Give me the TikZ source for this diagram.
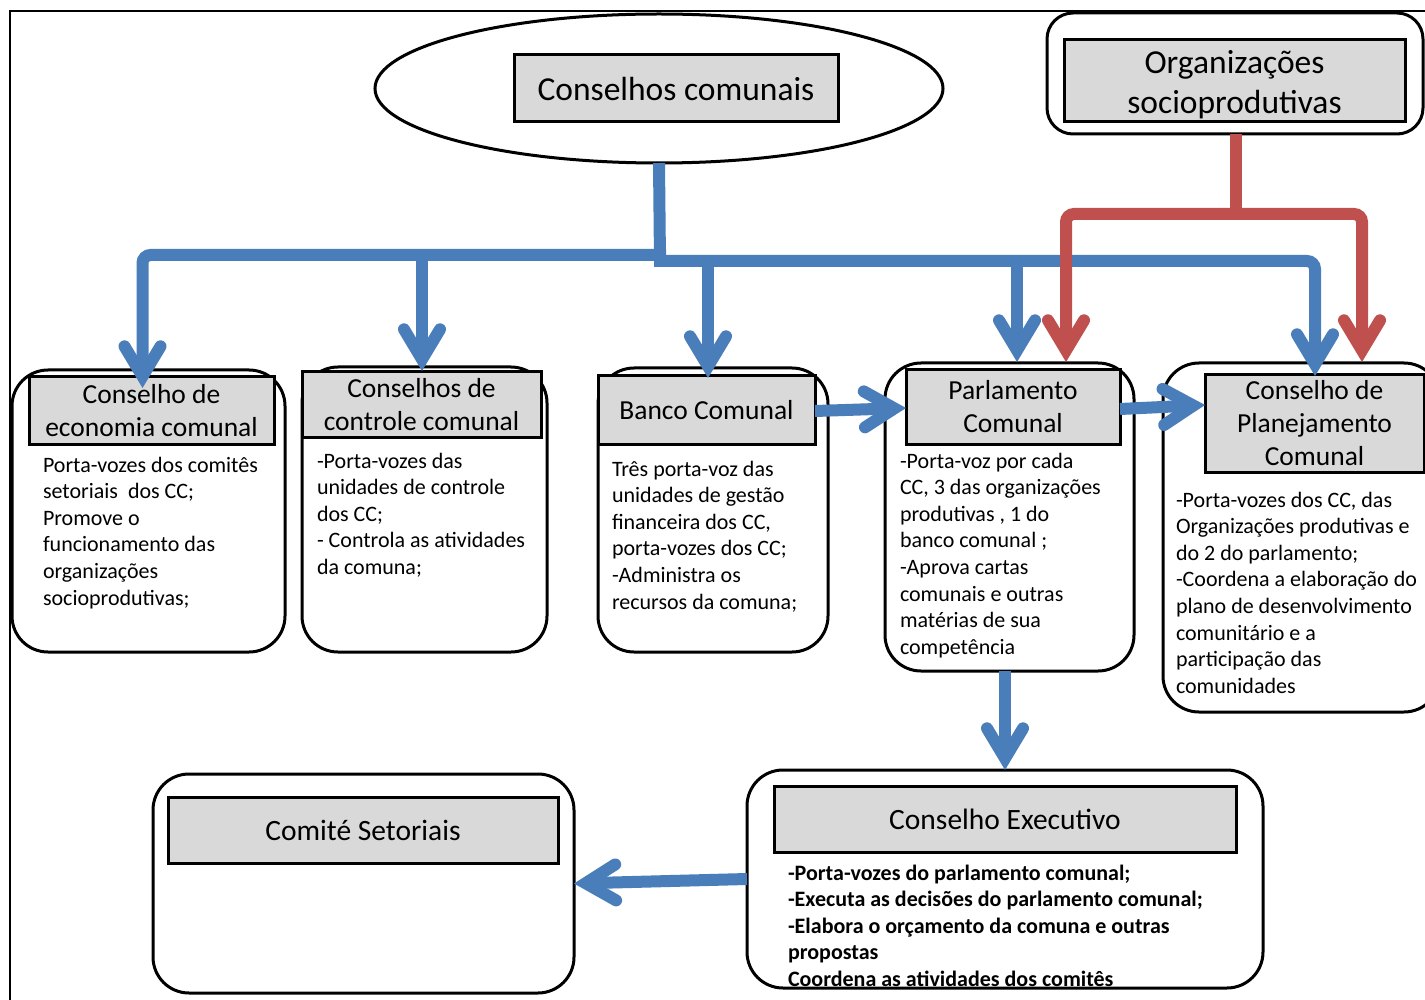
\documentclass[tikz,border=0pt]{standalone}
\usepackage{fontspec}
\setmainfont{Carlito}
\usetikzlibrary{arrows.meta,shapes.geometric,calc}
\definecolor{gfill}{HTML}{D9D9D9}
\definecolor{blu}{HTML}{4A7EBB}
\definecolor{rdd}{HTML}{C0504D}
\begin{document}
\begin{tikzpicture}[x=1pt,y=-1pt,
  obox/.style={draw=black,line width=3pt,rounded corners=36pt,fill=white,inner sep=0pt,outer sep=0pt},
  tbox/.style={draw=black,line width=3pt,fill=gfill,inner sep=0pt,outer sep=0pt,align=center,font=\fontsize{27.5}{33}\selectfont},
  bigt/.style={font=\fontsize{33.5}{40}\selectfont},
  midt/.style={font=\fontsize{29.5}{35}\selectfont},
  body/.style={inner sep=0pt,outer sep=0pt,anchor=base west,font=\fontsize{22}{26.6}\selectfont},
  conn/.style={line width=12pt,-{Straight Barb[length=30pt,width=36pt,line cap=round,line join=miter]}},
  bconn/.style={conn,draw=blu},
  rconn/.style={conn,draw=rdd},
  bline/.style={line width=12pt,draw=blu},
  rline/.style={line width=12pt,draw=rdd}]
\useasboundingbox (0,0) rectangle (1425,1000);
\clip (0,0) rectangle (1425,1000);
\fill[white] (0,0) rectangle (1425,1000);
\draw[line width=2pt] (10,1020) -- (10,11) -- (1440,11);

% top
\node[ellipse,draw,line width=3pt,minimum width=568pt,minimum height=149pt,inner sep=0pt,outer sep=0pt] (ell) at (659,88.5) {};
\node[tbox,bigt,minimum width=324pt,minimum height=67pt] (cc) at (676,88.5) {Conselhos comunais};
\node[obox,rounded corners=26pt,minimum width=376pt,minimum height=121pt] (orgO) at (1235,73.5) {};
\node[tbox,minimum width=341pt,minimum height=82pt] (org) at (1234.5,81) {};
\node[bigt,align=center,inner sep=0pt] (orgT) at (1234.5,85) {Organizações\\socioprodutivas};

% row 2
\node[obox,minimum width=273pt,minimum height=282pt] (ecoO) at (148.5,511) {};
\node[tbox,minimum width=245pt,minimum height=67pt] (eco) at (151.5,410.5) {Conselho de\\economia comunal};
\node[body] (ecoB) at (43,472) {\parbox[t]{235pt}{\raggedright Porta-vozes dos comitês\\setoriais\ \ dos CC;\\Promove o\\funcionamento das\\organizações\\socioprodutivas;}};

\node[obox,minimum width=245pt,minimum height=285pt] (ctlO) at (424.5,509.5) {};
\node[tbox,minimum width=239pt,minimum height=66pt] (ctl) at (421.5,404.5) {Conselhos de\\controle comunal};
\node[body] (ctlB) at (317,468) {\parbox[t]{225pt}{\raggedright -Porta-vozes das\\unidades de controle\\dos CC;\\- Controla as atividades\\da comuna;}};

\node[obox,minimum width=230pt,minimum height=284pt] (banO) at (713,510) {};
\node[tbox,minimum width=217pt,minimum height=68pt] (ban) at (706.5,410) {Banco Comunal};
\node[body] (banB) at (612,476) {\parbox[t]{210pt}{\raggedright Três porta-voz das\\unidades de gestão\\financeira dos CC,\\porta-vozes dos CC;\\-Administra os\\recursos da comuna;}};

\node[obox,minimum width=249pt,minimum height=308pt] (parO) at (1009.5,517) {};
\node[tbox,minimum width=214pt,minimum height=74pt] (par) at (1013,407) {Parlamento\\Comunal};
\node[body] (parB) at (900,468) {\parbox[t]{230pt}{\raggedright -Porta-voz por cada\\CC, 3 das organizações\\produtivas , 1 do\\banco comunal ;\\-Aprova cartas\\comunais e outras\\matérias de sua\\competência}};

\node[obox,minimum width=277pt,minimum height=349pt] (plaO) at (1301.5,537.5) {};
\node[tbox,minimum width=219pt,minimum height=97pt] (pla) at (1314.5,423.5) {Conselho de\\Planejamento\\Comunal};
\node[body] (plaB) at (1176,507) {\parbox[t]{260pt}{\raggedright -Porta-vozes dos CC, das\\Organizações produtivas e\\do 2 do parlamento;\\-Coordena a elaboração do\\plano de desenvolvimento\\comunitário e a\\participação das\\comunidades}};

% row 3
\node[obox,minimum width=421pt,minimum height=219pt] (comO) at (363.5,883.5) {};
\node[tbox,midt,minimum width=390pt,minimum height=66pt] (com) at (363,830) {Comité Setoriais};

\node[obox,minimum width=516pt,minimum height=218pt] (exeO) at (1005,879) {};
\node[tbox,midt,minimum width=462pt,minimum height=66pt] (exe) at (1005,819) {Conselho Executivo};
\begin{scope}
\clip (748.5,771.5) rectangle (1261.5,986.5);
\node[body,font=\fontsize{22}{26.6}\selectfont\bfseries] (exeB) at (788,880) {\parbox[t]{470pt}{\raggedright -Porta-vozes do parlamento comunal;\\-Executa as decisões do parlamento comunal;\\-Elabora o orçamento da comuna e outras\\propostas\\Coordena as atividades dos comitês}};
\end{scope}

% coordinates for connectors
\coordinate (jB) at (660,262);
\coordinate (jL) at (666,255);
\coordinate (cL) at (142.5,255);
\coordinate (jR) at (654,261);
\coordinate (cR) at (1315,261);
\coordinate (ecoT) at (142.5,388);
\coordinate (ctlT) at (422,371);
\coordinate (banT) at (708,378);
\coordinate (parT) at (1017,362);
\coordinate (plaT) at (1315,376);
\coordinate (rJ) at (1236,214);
\coordinate (rL) at (1066,214);
\coordinate (rR) at (1362,214);
\coordinate (parRT) at (1066,362);
\coordinate (plaRT) at (1362,362);

% blue tree
\draw[bline] (ell.south) -- (jB);
\draw[bconn,rounded corners=8pt] (jL) -- (cL) -- (ecoT);
\draw[bconn] (ctlT |- cL) -- (ctlT);
\draw[bconn,rounded corners=8pt] (jR) -- (cR) -- (plaT);
\draw[bconn] (banT |- cR) -- (banT);
\draw[bconn] (parT |- cR) -- (parT);

% red tree
\draw[rline] (orgO.south -| rJ) -- (rJ);
\draw[rconn,rounded corners=8pt] ($(rJ)+(6,0)$) -- (rL) -- (parRT);
\draw[rconn,rounded corners=8pt] ($(rJ)+(-6,0)$) -- (rR) -- (plaRT);

% horizontal / lower arrows
\draw[bconn] (ban.east |- 0,411) -- (par.west |- 0,408);
\draw[bconn] (par.east |- 0,409) -- (pla.west |- 0,405);
\draw[bconn] (parO.south -| exeO.north) -- (exeO.north);
\draw[bconn] (exeO.west) -- (comO.east);
\end{tikzpicture}
\end{document}
